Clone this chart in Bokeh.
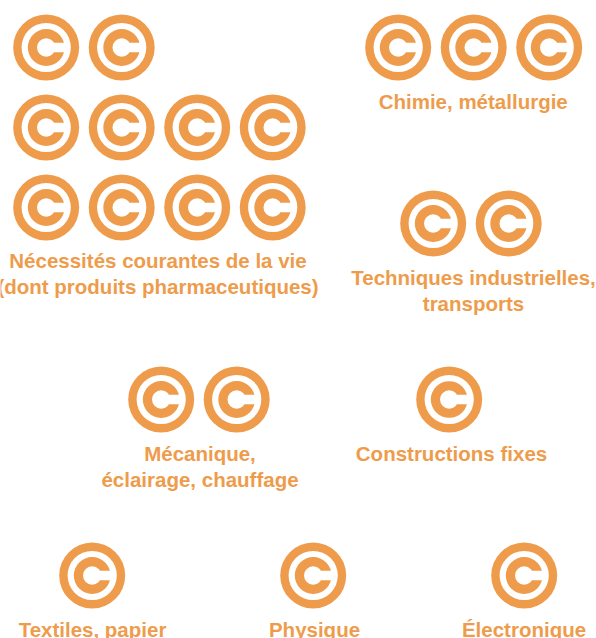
from bokeh.plotting import figure
from bokeh.embed import file_html
from bokeh.resources import INLINE
from bokeh.models import Range1d, ColumnDataSource
from bokeh.core.properties import value

# Data: icons per category, by row
categories = ["Nécessités courantes de la vie\n(dont produits pharmaceutiques)",
              "Chimie, métallurgie",
              "Techniques industrielles,\ntransports",
              "Mécanique,\néclairage, chauffage",
              "Constructions fixes",
              "Textiles, papier",
              "Physique",
              "Électronique"]
icon_rows = [[2, 4, 4], [3], [2], [2], [1], [1], [1], [1]]

# Layout (pixels), separate from the data
first_x = [45.7, 397.7, 432.7, 160.7, 448.7, 91.7, 312.7, 523.7]
first_y = [47, 47, 223, 399, 399, 575, 575, 575]
label_x = [157.5, 472.7, 473, 199.5, 451, 92, 314, 523.5]
label_y = [260, 101, 277, 453, 453, 629, 629, 629]
STEP_X, STEP_Y, LINE_H = 75.5, 80, 25.5
COLOR = "#ee9c4b"

W, H = 596, 638
p = figure(width=W, height=H, output_backend="svg", toolbar_location=None,
           x_range=Range1d(0, W), y_range=Range1d(H, 0),
           min_border=0, outline_line_color=None, background_fill_color="white")
p.axis.visible = False
p.grid.visible = False

xs, ys = [], []
for x0, y0, rows in zip(first_x, first_y, icon_rows):
    for r, n in enumerate(rows):
        for i in range(n):
            xs.append(x0 + i * STEP_X)
            ys.append(y0 + r * STEP_Y)
src = ColumnDataSource(dict(x=xs, y=ys, gap_x=[x + 14 for x in xs]))

p.annulus(x="x", y="y", inner_radius=24.6, outer_radius=33, source=src,
          fill_color=COLOR, line_color=None)
p.annulus(x="x", y="y", inner_radius=9.2, outer_radius=18.4, source=src,
          fill_color=COLOR, line_color=None)
p.rect(x="gap_x", y="y", width=13, height=9.5, source=src,
       fill_color="white", line_color=None)

tx, ty, tt = [], [], []
for lab, x, y in zip(categories, label_x, label_y):
    for j, line in enumerate(lab.split("\n")):
        tx.append(x); ty.append(y + j * LINE_H); tt.append(line)
p.text(x=tx, y=ty, text=tt, text_color=COLOR, text_font=value("Liberation Sans"),
       text_font_style="bold", text_font_size="20.5px", text_align="center",
       text_baseline="middle")

open("out.html", "w").write(file_html(p, INLINE))
